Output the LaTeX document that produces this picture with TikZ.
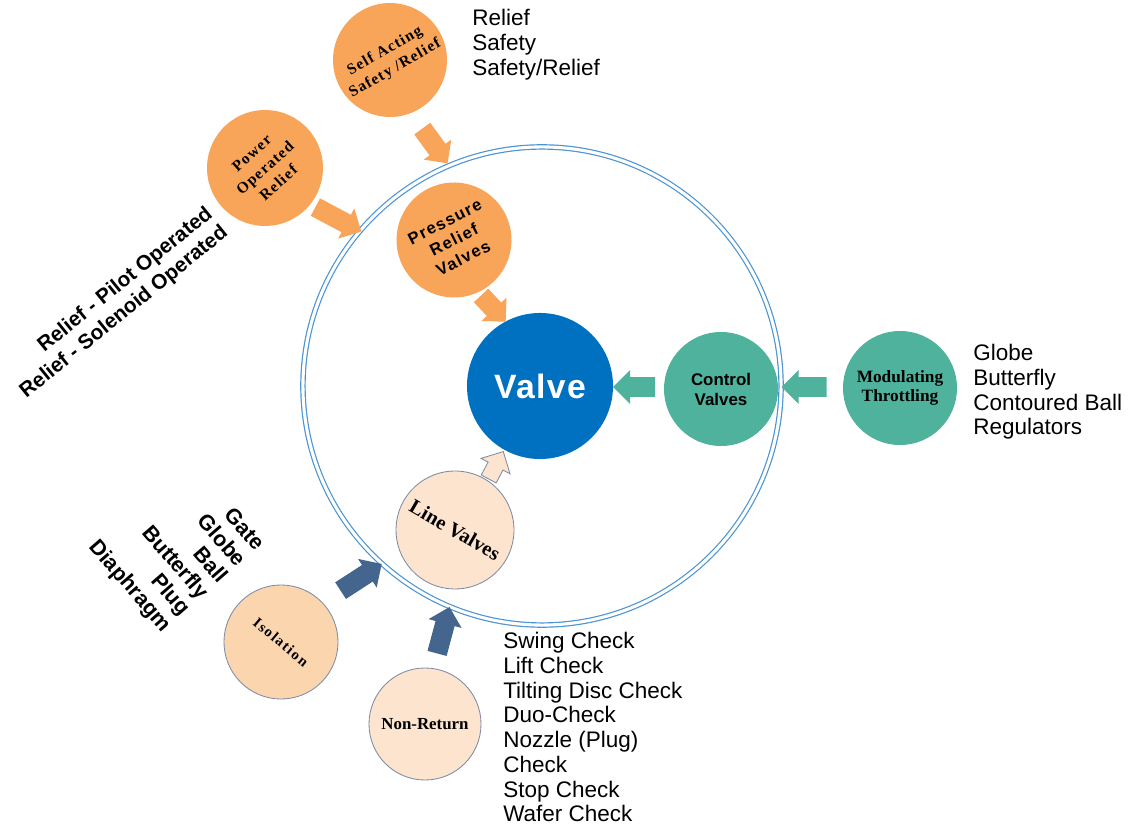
\documentclass[tikz,border=0pt]{standalone}
\usepackage{fontspec}
\setmainfont{Liberation Serif}
\setsansfont{Liberation Sans}
\usetikzlibrary{shapes.arrows}
\definecolor{ringblue}{RGB}{75,148,212}
\definecolor{valveblue}{RGB}{0,112,192}
\definecolor{orange}{RGB}{248,165,90}
\definecolor{teal}{RGB}{79,178,157}
\definecolor{peach}{RGB}{252,228,206}
\definecolor{peachdark}{RGB}{251,213,174}
\definecolor{slate}{RGB}{68,101,141}
\definecolor{rimgray}{RGB}{125,140,165}
\newcommand{\lsp}[1]{\addfontfeatures{LetterSpace=#1}}

\begin{document}
\begin{tikzpicture}[x=0.025cm, y=-0.025cm,
    bubble/.style={circle, inner sep=0pt, minimum size=2.85cm, align=center},
    hot/.style={bubble, fill=orange},
    cool/.style={bubble, fill=teal},
    pale/.style={bubble, fill=peach, draw=rimgray, line width=0.6pt},
    blockarrow/.style={single arrow, inner xsep=0pt, inner ysep=0.24cm,
        single arrow head extend=0.18cm},
    listtext/.style={inner sep=0pt, align=left, font=\sffamily\fontsize{16}{17.6}\selectfont},
    tiltlist/.style={inner sep=0pt, align=right, font=\sffamily\bfseries\fontsize{15.3}{17.5}\selectfont}]
    \useasboundingbox (0,0) rectangle (1131,832);

    % Vòng tròn lớn hai nét bao quanh
    \node[circle, draw=ringblue, double=white, double distance=2.2pt, line width=0.85pt,
        minimum size=11.95cm, inner sep=0pt] (ring) at (542,386) {};

    % Vòng tròn chính "Valve" ở giữa
    \node[bubble, fill=valveblue, minimum size=3.65cm, text=white,
        font=\sffamily\bfseries\fontsize{24}{28}\selectfont\lsp{4}] (valve) at (540,386) {Valve};

    % Nhánh trên: van an toàn (màu cam)
    \node[hot, rotate=27, minimum size=2.875cm,
        font=\sffamily\bfseries\fontsize{11.8}{14.5}\selectfont\lsp{8}] (prv) at (454,240) {Pressure\\Relief\\Valves};
    \node[hot, rotate=30, font=\bfseries\fontsize{11}{14.4}\selectfont\lsp{8}] (sa) at (390,60) {Self Acting\\Safety /Relief};
    \node[hot, rotate=42, minimum size=2.9cm, font=\bfseries\fontsize{11}{14.2}\selectfont\lsp{8}] (por) at (265,168) {Power\\Operated\\Relief};
    \node[blockarrow, fill=orange, rotate=-54, minimum height=1.075cm] (a1) at (432,142) {}; % mũi tên từ "Self Acting"
    \node[blockarrow, fill=orange, rotate=-28, minimum height=1.3cm] (a2) at (334,217) {}; % mũi tên từ "Power Operated"
    \node[blockarrow, fill=orange, rotate=-47, minimum height=0.9cm] (a3) at (490,305) {}; % mũi tên vào "Valve"

    % Nhánh phải: van điều khiển (màu xanh ngọc)
    \node[cool, font=\sffamily\bfseries\fontsize{12}{14.2}\selectfont] (ctrl) at (721,389) {Control\\Valves};
    \node[cool, font=\bfseries\fontsize{12.3}{13.3}\selectfont] (mod) at (900,388) {Modulating\\Throttling};
    \node[blockarrow, fill=teal, rotate=180, minimum height=1.05cm] (a4) at (639,387) {};
    \node[blockarrow, fill=teal, rotate=180, minimum height=1.125cm] (a5) at (809,387) {};

    % Nhánh dưới: van đường ống (màu da)
    \node[pale, rotate=-30, minimum size=2.95cm, font=\bfseries\fontsize{14.5}{16}\selectfont] (line) at (455,530) {Line Valves};
    \node[pale, fill=peachdark, rotate=-40, font=\bfseries\fontsize{10.5}{12}\selectfont\lsp{10}] (iso) at (281,642) {Isolation};
    \node[pale, minimum size=2.8cm, font=\bfseries\fontsize{12}{14}\selectfont] (nonret) at (425,724) {Non-Return};
    \node[blockarrow, fill=peach, draw=rimgray, line width=0.6pt, rotate=62, minimum height=0.775cm,
        inner ysep=0.2cm, single arrow head extend=0.2cm] (a6) at (494,469) {}; % mũi tên rỗng vào "Valve"
    \node[blockarrow, fill=slate, rotate=33, minimum height=1.225cm] (a7) at (357,580) {};
    \node[blockarrow, fill=slate, rotate=75, minimum height=1.2cm] (a8) at (442,635) {};

    % Danh sách các loại van
    \node[listtext, anchor=north west] (t1) at (472,9) {Relief\\Safety\\Safety/Relief};
    \node[listtext, anchor=north west] (t2) at (973,344) {Globe\\Butterfly\\Contoured Ball\\Regulators};
    \node[listtext, anchor=north west] (t3) at (503,632) {Swing Check\\Lift Check\\Tilting Disc Check\\Duo-Check\\Nozzle (Plug)\\Check\\Stop Check\\Wafer Check};
    \node[tiltlist, rotate=39, anchor=north east, font=\sffamily\bfseries\fontsize{14.8}{17.2}\selectfont] (t4) at (204,204) {Relief - Pilot Operated\\Relief - Solenoid Operated};
    \node[tiltlist, rotate=-49, anchor=north east] (t5) at (267,542) {Gate\\Globe\\Ball\\Butterfly\\Plug\\Diaphragm};
\end{tikzpicture}
\end{document}
